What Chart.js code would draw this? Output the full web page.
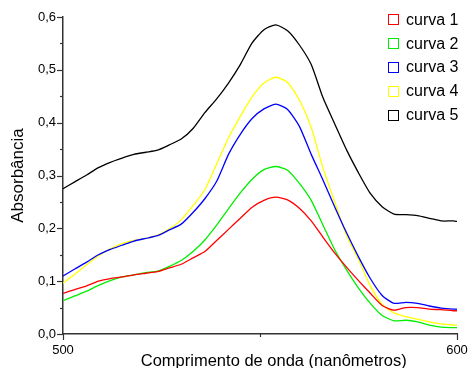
<!DOCTYPE html>
<html>
<head>
<meta charset="utf-8">
<script src="https://cdn.jsdelivr.net/npm/chart.js@4"></script>
<style>
  body { margin: 0; background: #fff; }
  #wrap { position: relative; width: 469px; height: 368px; }
  #legend { position: absolute; left: 388px; top: 8px; font-family: "Liberation Sans", Arial, sans-serif; font-size: 16px; color: #000; }
  .row { height: 23.8px; display: flex; align-items: center; }
  .box { width: 9px; height: 9px; border: 1.3px solid; margin-right: 7px; }
</style>
</head>
<body>
<div id="wrap">
  <canvas id="absChart" width="469" height="368"></canvas>
  <div id="legend"></div>
</div>
<script>
// wavelength in nm (every 3 nm, plus the end point)
const wavelengths = [500, 503, 506, 509, 512, 515, 518, 521, 524, 527, 530, 533, 536, 539, 542, 545, 548, 551,
  554, 557, 560, 563, 566, 569, 572, 575, 578, 581, 584, 587, 590, 593, 596, 599, 600];

const curva1 = [0.077, 0.084, 0.091, 0.100, 0.105, 0.108, 0.112, 0.115, 0.118, 0.125, 0.132, 0.144, 0.156, 0.177,
  0.198, 0.219, 0.240, 0.253, 0.259, 0.254, 0.238, 0.214, 0.183, 0.153, 0.126, 0.101, 0.077, 0.054, 0.045, 0.050,
  0.050, 0.047, 0.046, 0.044, 0.044];
const curva2 = [0.063, 0.072, 0.081, 0.092, 0.101, 0.108, 0.112, 0.116, 0.119, 0.128, 0.139, 0.156, 0.178, 0.206,
  0.237, 0.267, 0.293, 0.311, 0.317, 0.310, 0.285, 0.253, 0.206, 0.159, 0.121, 0.087, 0.058, 0.035, 0.025, 0.026,
  0.023, 0.017, 0.013, 0.012, 0.012];
const curva3 = [0.110, 0.123, 0.136, 0.150, 0.160, 0.168, 0.176, 0.181, 0.186, 0.197, 0.208, 0.230, 0.256, 0.289,
  0.340, 0.378, 0.408, 0.426, 0.435, 0.425, 0.393, 0.340, 0.291, 0.240, 0.191, 0.146, 0.105, 0.073, 0.058, 0.060,
  0.058, 0.053, 0.049, 0.047, 0.047];
const curva4 = [0.096, 0.113, 0.131, 0.148, 0.161, 0.171, 0.177, 0.181, 0.187, 0.199, 0.216, 0.243, 0.273, 0.322,
  0.371, 0.412, 0.449, 0.475, 0.486, 0.476, 0.443, 0.391, 0.314, 0.249, 0.186, 0.141, 0.091, 0.056, 0.040, 0.033,
  0.028, 0.023, 0.019, 0.017, 0.017];
const curva5 = [0.275, 0.288, 0.301, 0.315, 0.325, 0.333, 0.340, 0.344, 0.348, 0.358, 0.369, 0.389, 0.419, 0.445,
  0.475, 0.510, 0.551, 0.576, 0.585, 0.574, 0.547, 0.510, 0.447, 0.397, 0.348, 0.305, 0.266, 0.241, 0.227, 0.226,
  0.224, 0.219, 0.214, 0.214, 0.213];

const seriesNames = ['curva 1', 'curva 2', 'curva 3', 'curva 4', 'curva 5'];
const seriesValues = [curva1, curva2, curva3, curva4, curva5];
const seriesColors = ['#ff0000', '#00ee00', '#0000ff', '#ffff00', '#000000'];

Chart.defaults.font.family = '"Liberation Sans", Arial, sans-serif';
Chart.defaults.color = '#000';

// the little tick marks on the axes (major long, minor short), drawn from the scales
const tickMarks = {
  id: 'tickMarks',
  afterDraw(chart) {
    const ctx = chart.ctx;
    const xs = chart.scales.x;
    const ys = chart.scales.y;
    ctx.save();
    ctx.strokeStyle = '#333';
    ctx.lineWidth = 1.2;
    ys.ticks.forEach(t => {
      const py = Math.round(ys.getPixelForValue(t.value)) + 0.5;
      const major = Math.round(t.value * 100) % 10 === 0;
      ctx.beginPath();
      ctx.moveTo(ys.right - (major ? 6 : 3), py);
      ctx.lineTo(ys.right, py);
      ctx.stroke();
    });
    xs.ticks.forEach(t => {
      const px = Math.round(xs.getPixelForValue(t.value)) + 0.5;
      const major = t.value === 500 || t.value === 600;
      ctx.beginPath();
      ctx.moveTo(px, xs.top);
      ctx.lineTo(px, xs.top + (major ? 6 : 3));
      ctx.stroke();
    });
    ctx.restore();
  }
};

const datasets = seriesNames.map((name, i) => ({
  label: name,
  data: wavelengths.map((w, j) => ({ x: w, y: seriesValues[i][j] })),
  borderColor: seriesColors[i],
  borderWidth: 1.3,
  pointRadius: 0,
  tension: 0.2,
  fill: false
}));

new Chart(document.getElementById('absChart').getContext('2d'), {
  type: 'line',
  data: { datasets: datasets },
  options: {
    responsive: false,
    animation: false,
    devicePixelRatio: 1,
    layout: { padding: { top: 17, right: 12, left: 0, bottom: 0 } },
    plugins: { legend: { display: false }, tooltip: { enabled: false } },
    scales: {
      x: {
        type: 'linear',
        min: 500,
        max: 600,
        afterFit: s => { s.height = 34; s.paddingLeft = 0; s.paddingRight = 0; },
        grid: { display: false, drawTicks: false },
        border: { display: true, color: '#333', width: 1.5 },
        ticks: {
          stepSize: 50,
          padding: 9,
          font: { size: 13 },
          maxRotation: 0,
          callback: v => (v === 550 ? '' : v)
        },
        // leading spaces push the title a bit right, as in the original
        title: { display: true, text: '      Comprimento de onda (nanômetros)', font: { size: 16.5 }, padding: { top: 0, bottom: -3 } }
      },
      y: {
        min: 0,
        max: 0.6,
        afterFit: s => { s.width = 63; s.paddingTop = 0; s.paddingBottom = 0; },
        grid: { display: false, drawTicks: false },
        border: { display: true, color: '#333', width: 1.5 },
        ticks: {
          stepSize: 0.05,
          padding: 7,
          font: { size: 13 },
          callback: v => (Math.round(v * 100) % 10 === 0 ? v.toFixed(1).replace('.', ',') : '')
        },
        title: { display: true, text: 'Absorbância', font: { size: 17 }, padding: { top: 8, bottom: 0 } }
      }
    }
  },
  plugins: [tickMarks]
});

// legend with open squares, top right like the original
const legend = document.getElementById('legend');
seriesNames.forEach((name, i) => {
  const row = document.createElement('div');
  row.className = 'row';
  const box = document.createElement('span');
  box.className = 'box';
  box.style.borderColor = seriesColors[i];
  row.appendChild(box);
  row.appendChild(document.createTextNode(name));
  legend.appendChild(row);
});
</script>
</body>
</html>
